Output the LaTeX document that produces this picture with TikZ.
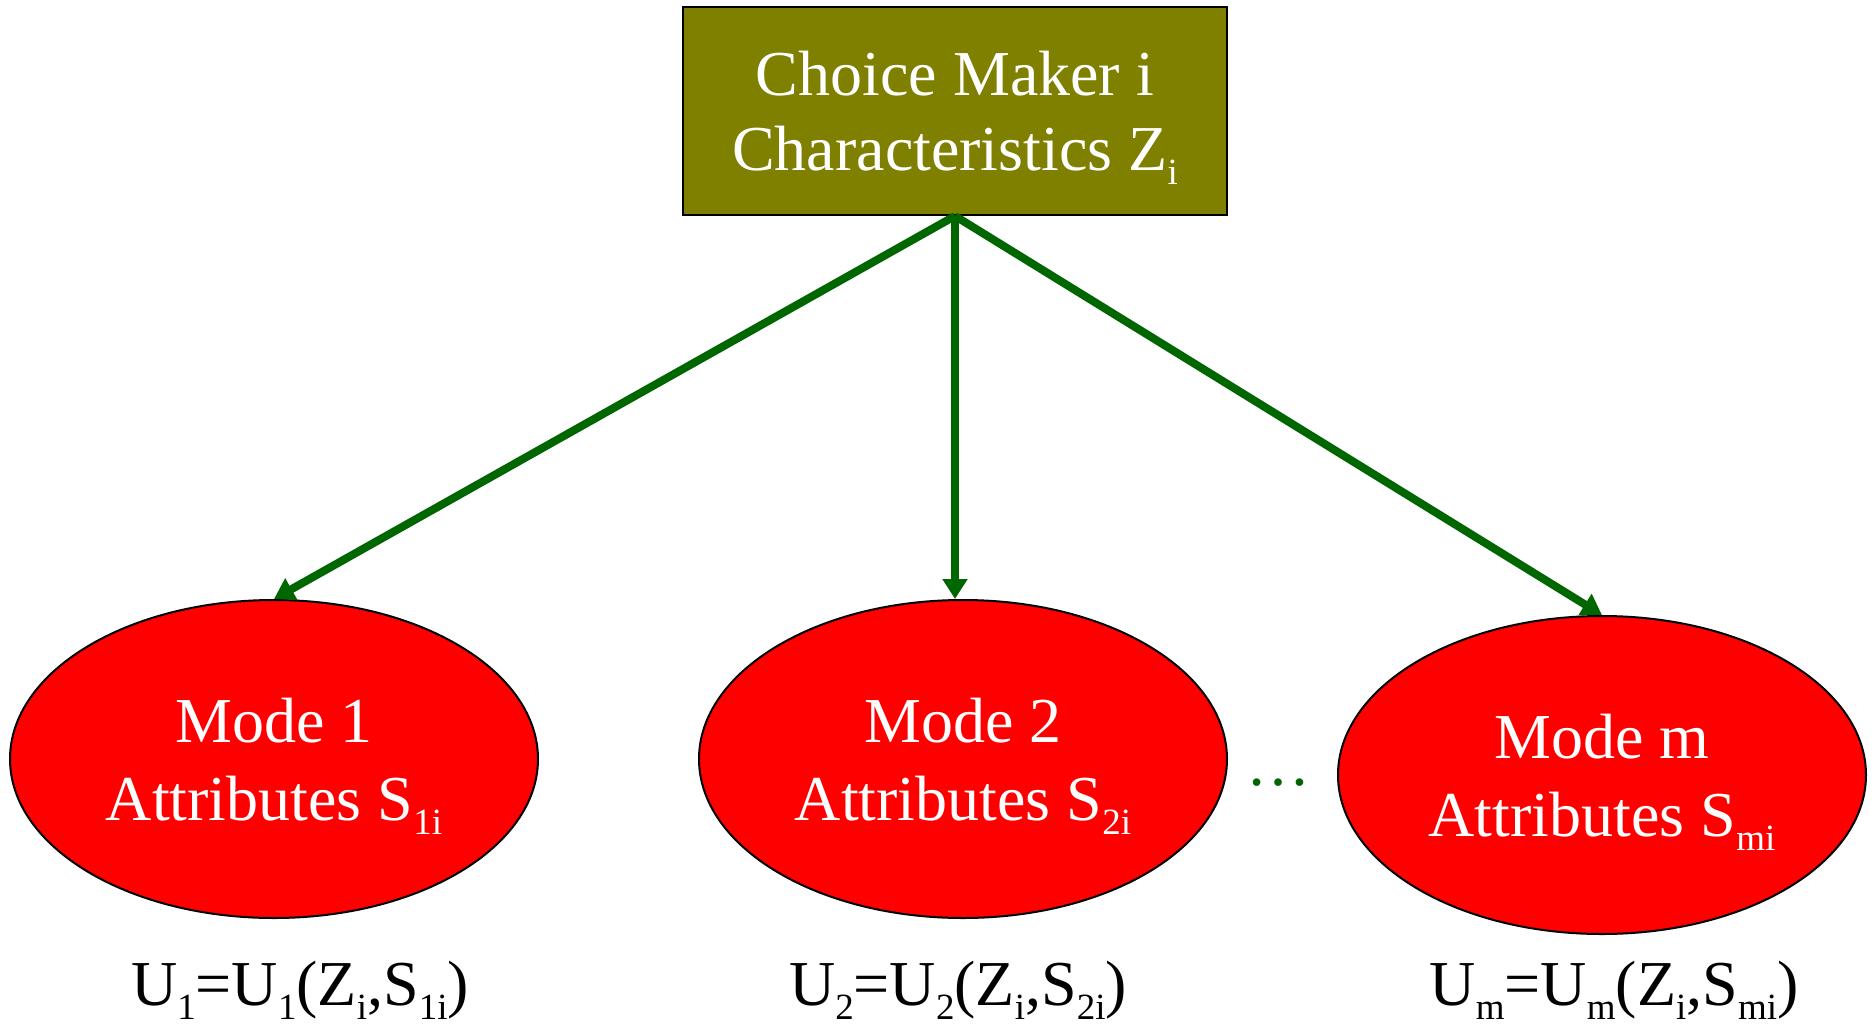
\documentclass[tikz,border=0pt]{standalone}
\usepackage{fontspec}
\setmainfont{Liberation Serif}
\usetikzlibrary{shapes.geometric,arrows.meta}
\definecolor{olivebox}{RGB}{128,128,0}
\definecolor{linkgreen}{RGB}{0,102,0}
\newcommand{\sbs}[1]{\raisebox{-14pt}[0pt][0pt]{\fontsize{37}{37}\selectfont #1}}
\begin{document}
\begin{tikzpicture}[x=1pt,y=-1pt,
    maker/.style={draw=black,line width=2pt,fill=olivebox,text=white,
      minimum width=544pt,minimum height=208pt,inner sep=0pt,align=center,
      font=\fontsize{64}{75}\selectfont},
    mode/.style={ellipse,draw=black,line width=2pt,fill=red,text=white,
      minimum width=528pt,minimum height=318pt,inner sep=0pt,align=center,
      font=\fontsize{64}{78}\selectfont},
    utility/.style={anchor=base,inner sep=0pt,font=\fontsize{64}{76}\selectfont},
    link/.style={draw=linkgreen,line width=8pt,-{Triangle[length=20pt,width=24pt]}}]
  \useasboundingbox (0,0) rectangle (1875,1028);
  \node[maker] (cm) at (955,111) {Choice Maker i\\Characteristics Z\sbs{i}};
  \node[mode,text depth=-6pt] (m1) at (274,759) {Mode 1\\Attributes S\sbs{1i}};
  \node[mode,text depth=-6pt] (m2) at (963,759) {Mode 2\\Attributes S\sbs{2i}};
  \node[mode,text depth=-6pt] (m3) at (1602,775) {Mode m\\Attributes S\sbs{mi}};
  \node[utility,text=linkgreen] (dots) at (1278,785) {…};
  \draw[link] (cm.south) -- (m1.north);
  \draw[link] (cm.south) -- (cm.south |- m2.north);
  \draw[link] (cm.south) -- (m3.north);
  \node[utility] (u1) at (300,1005) {U\sbs{1}=U\sbs{1}(Z\sbs{i},S\sbs{1i})};
  \node[utility] (u2) at (958,1005) {U\sbs{2}=U\sbs{2}(Z\sbs{i},S\sbs{2i})};
  \node[utility] (um) at (1614,1005) {U\sbs{m}=U\sbs{m}(Z\sbs{i},S\sbs{mi})};
\end{tikzpicture}
\end{document}
